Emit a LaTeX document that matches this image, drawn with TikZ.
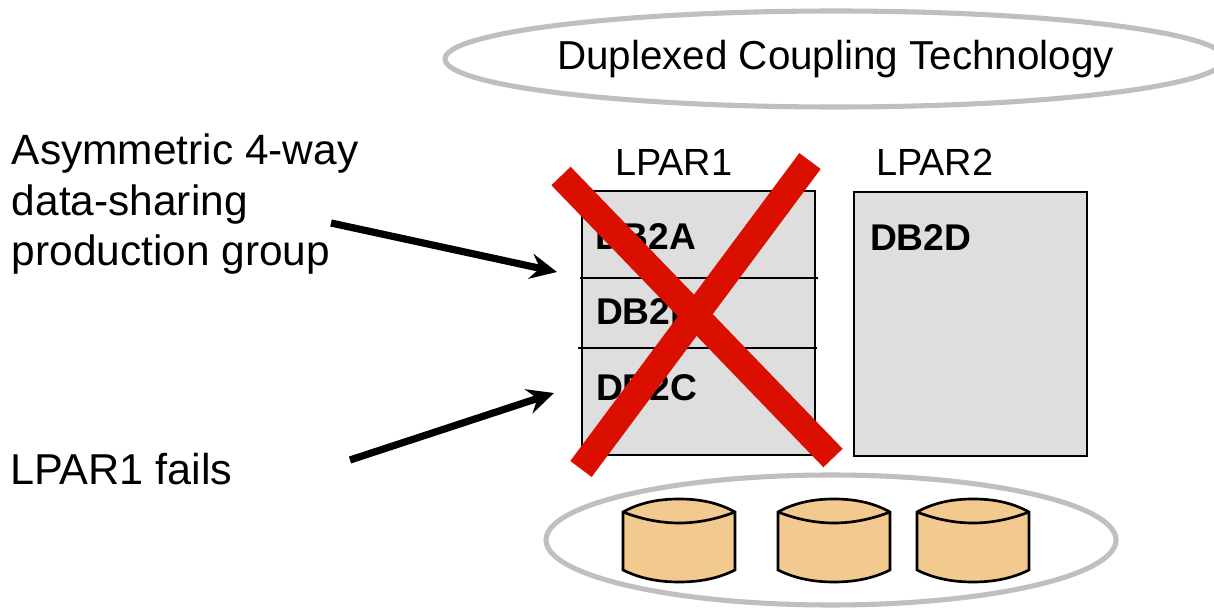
\documentclass[tikz,border=0pt]{standalone}
\usepackage{fontspec}
\setmainfont{Liberation Sans}
\usetikzlibrary{arrows.meta}

\definecolor{diskfill}{HTML}{F2C98F}
\definecolor{crossred}{HTML}{DA0F00}
\tikzset{
  lpar/.style={draw=black,fill=black!13,line width=1.7pt},
  divider/.style={draw=black,line width=1.4pt},
  cross/.style={draw=crossred,line width=20pt},
  pointer/.style={draw=black,line width=5.4pt,-{Stealth[length=20pt,width=19pt,inset=7pt]}},
  inset/.style={inner sep=0pt,outer sep=0pt,anchor=base west},
  bigtext/.style={inset,font=\fontsize{31.8}{38}\selectfont},
  lpartext/.style={inset,font=\fontsize{28.4}{34}\selectfont},
  dbtext/.style={inset,font=\fontsize{27.9}{33}\selectfont\bfseries},
  disk/.pic={
    \draw[black,fill=diskfill,line width=2pt] (0,13) -- (0,71)
      .. controls (18,80) and (37,83) .. (56,83)
      .. controls (75,83) and (94,80) .. (112,71) -- (112,13)
      .. controls (94,3) and (75,0) .. (56,0)
      .. controls (37,0) and (18,3) .. (0,13) -- cycle;
    \draw[black,line width=2pt] (0,13)
      .. controls (18,20) and (37,24) .. (56,24)
      .. controls (75,24) and (94,20) .. (112,13);
  }
}

\begin{document}
\begin{tikzpicture}[x=0.75pt,y=-0.75pt]
\useasboundingbox (0,0) rectangle (1214,609);

% ovals
\begin{scope}
\clip (0,0) rectangle (1214,609);
\draw[black!25,line width=3.8pt] (835,59) ellipse [x radius=390,y radius=48];
\draw[black!25,line width=3.8pt] (831,540) ellipse [x radius=285,y radius=65];
\end{scope}
\node[inset,font=\fontsize{30.3}{36}\selectfont] (title) at (557,70) {Duplexed Coupling Technology};

% labels on the left
\node[bigtext] (group1) at (12,165) {Asymmetric 4-way};
\node[bigtext] (group2) at (12,216) {data-sharing};
\node[bigtext] (group3) at (12,266) {production group};
\node[bigtext,font=\fontsize{32.4}{38}\selectfont] (fails) at (10,484) {LPAR1 fails};

% the two partitions
\draw[lpar] (582,191) rectangle (815,455);
\draw[lpar] (854,192) rectangle (1087,456);
\coordinate (line1a) at (580,278);
\coordinate (line1b) at (818,278);
\coordinate (line2a) at (578,348);
\coordinate (line2b) at (817,348);
\draw[divider] (line1a) -- (line1b);
\draw[divider] (line2a) -- (line2b);

\node[lpartext] (lpar1) at (615,176) {LPAR1};
\node[lpartext] (lpar2) at (876,176) {LPAR2};
\node[dbtext] (db2a) at (595,250) {DB2A};
\node[dbtext] (db2b) at (596,325) {DB2B};
\node[dbtext] (db2c) at (596,401) {DB2C};
\node[dbtext] (db2d) at (870,251) {DB2D};

% disks
\pic at (623,499) {disk};
\pic at (778,499) {disk};
\pic at (917,499) {disk};

% arrows
\coordinate (arrow1a) at (331,223);
\coordinate (arrow1b) at (557,272);
\coordinate (arrow2a) at (350,460);
\coordinate (arrow2b) at (554,393);
\draw[pointer] (arrow1a) -- (arrow1b);
\draw[pointer] (arrow2a) -- (arrow2b);

% the big X
\coordinate (cross1a) at (561,176);
\coordinate (cross1b) at (833,458);
\coordinate (cross2a) at (810,161);
\coordinate (cross2b) at (581,469);
\draw[cross] (cross1a) -- (cross1b);
\draw[cross] (cross2a) -- (cross2b);
\end{tikzpicture}
\end{document}
